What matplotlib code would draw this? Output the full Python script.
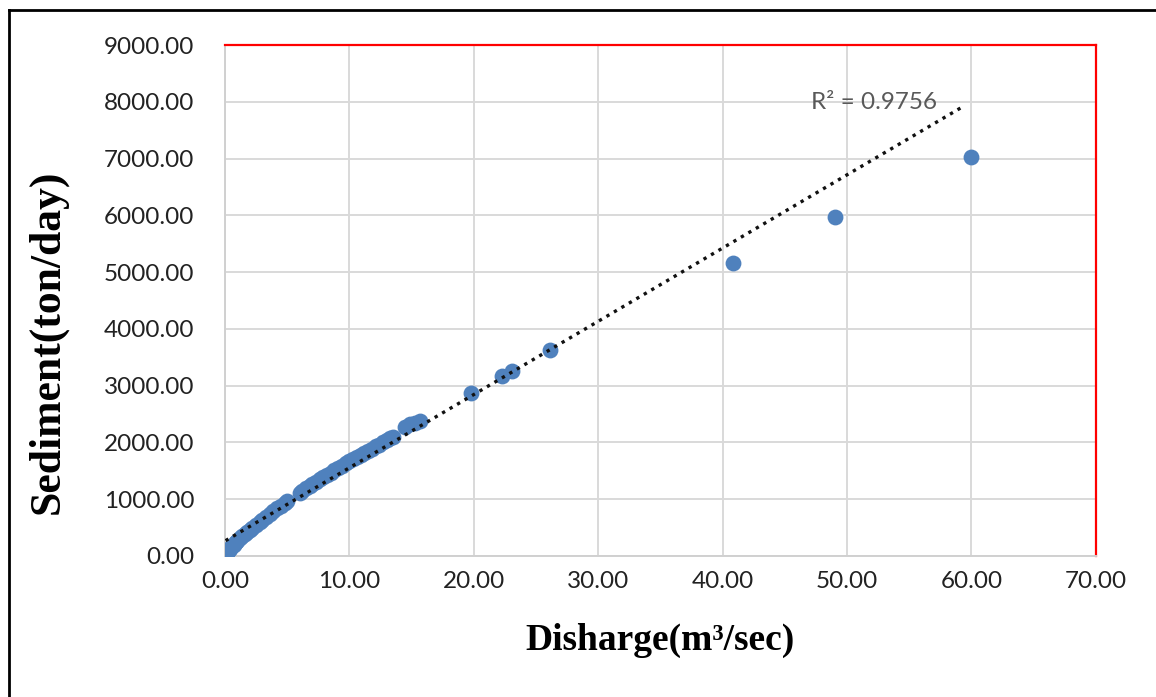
import numpy as np
import matplotlib.pyplot as plt
from matplotlib.lines import Line2D

# discharge (m3/sec) and sediment (ton/day)
discharge = [0.05, 0.1, 0.15, 0.2, 0.3, 0.4, 0.5, 0.6, 0.7, 0.8, 0.9, 1.0,
             1.2, 1.4, 1.6, 1.8, 2.0, 2.2, 2.5, 2.8, 3.0, 3.3, 3.6, 3.9,
             4.2, 4.5, 4.8, 5.0, 6.0, 6.2, 6.5, 6.8, 7.0, 7.3, 7.6, 7.9,
             8.2, 8.5, 8.8, 9.1, 9.4, 9.7, 10.0, 10.3, 10.6, 10.9, 11.2,
             11.5, 11.8, 12.1, 12.4, 12.7, 13.0, 13.3, 13.5, 14.5, 14.9,
             15.3, 15.7, 19.8, 22.3, 23.1, 26.1, 40.8, 49.0, 60.0]
sediment = [25, 40, 60, 75, 100, 130, 150, 180, 200, 225, 245, 265,
            310, 350, 385, 425, 460, 500, 550, 600, 640, 690, 740, 790,
            840, 880, 930, 960, 1110, 1140, 1190, 1230, 1260, 1310, 1350, 1390,
            1430, 1470, 1510, 1550, 1590, 1630, 1670, 1700, 1740, 1780, 1820,
            1850, 1890, 1930, 1960, 2000, 2040, 2080, 2100, 2280, 2320,
            2350, 2380, 2870, 3170, 3260, 3630, 5160, 5970, 7030]
# linear trendline (slope, intercept) as drawn in the picture
trend_coef = [129.0, 264.0]
r2_label = "R² = 0.9756"

x = np.array(discharge)
y = np.array(sediment)

fig = plt.figure(figsize=(11.56, 6.97), dpi=100)
ax = fig.add_axes([0.1946, 0.2023, 0.948 - 0.1946, 0.9354 - 0.2023])

ax.scatter(x, y, s=130, color='#4f81bd', zorder=3, linewidths=0)

xt = np.linspace(x.min(), x.max() - 0.7, 200)
ax.plot(xt, np.polyval(trend_coef, xt), color='#111111',
        linestyle=(0, (1, 1.6)), linewidth=2.4, zorder=4)
ax.text(52.2, 7990, r2_label, fontsize=17.5, color='#595959',
        family='Lato', ha='center', va='center')

ax.set_xlim(0, 70)
ax.set_ylim(0, 9000)
ax.set_xticks(np.arange(0, 71, 10))
ax.set_yticks(np.arange(0, 9001, 1000))
ax.xaxis.set_major_formatter(lambda v, p: f"{v:.2f}")
ax.yaxis.set_major_formatter(lambda v, p: f"{v:.2f}")
ax.tick_params(length=0, labelsize=17.5, colors='#222222')
ax.tick_params(axis='y', pad=22)
ax.tick_params(axis='x', pad=11)
for lab in ax.get_xticklabels() + ax.get_yticklabels():
    lab.set_family('Lato')

ax.grid(True, color='#d9d9d9', linewidth=1.4)
ax.set_axisbelow(True)
for side in ['top', 'right']:
    ax.spines[side].set_color('red')
    ax.spines[side].set_linewidth(1.6)
for side in ['bottom', 'left']:
    ax.spines[side].set_color('#d0d0d0')
    ax.spines[side].set_linewidth(1.4)

ax.set_xlabel("Disharge(m³/sec)", fontsize=27, fontweight='bold',
              family='Liberation Serif', labelpad=22)
ax.set_ylabel("Sediment(ton/day)", fontsize=31.5, fontweight='bold',
              family='Liberation Serif')
ax.yaxis.set_label_coords(-0.181, 0.42)

# outer frame lines (left and top)
fig.add_artist(Line2D([9 / 1156, 9 / 1156], [0, 1 - 10 / 697],
                      transform=fig.transFigure, color='black', linewidth=2))
fig.add_artist(Line2D([9 / 1156, 1], [1 - 10 / 697, 1 - 10 / 697],
                      transform=fig.transFigure, color='black', linewidth=2))

fig.savefig("out.png", dpi=100)
